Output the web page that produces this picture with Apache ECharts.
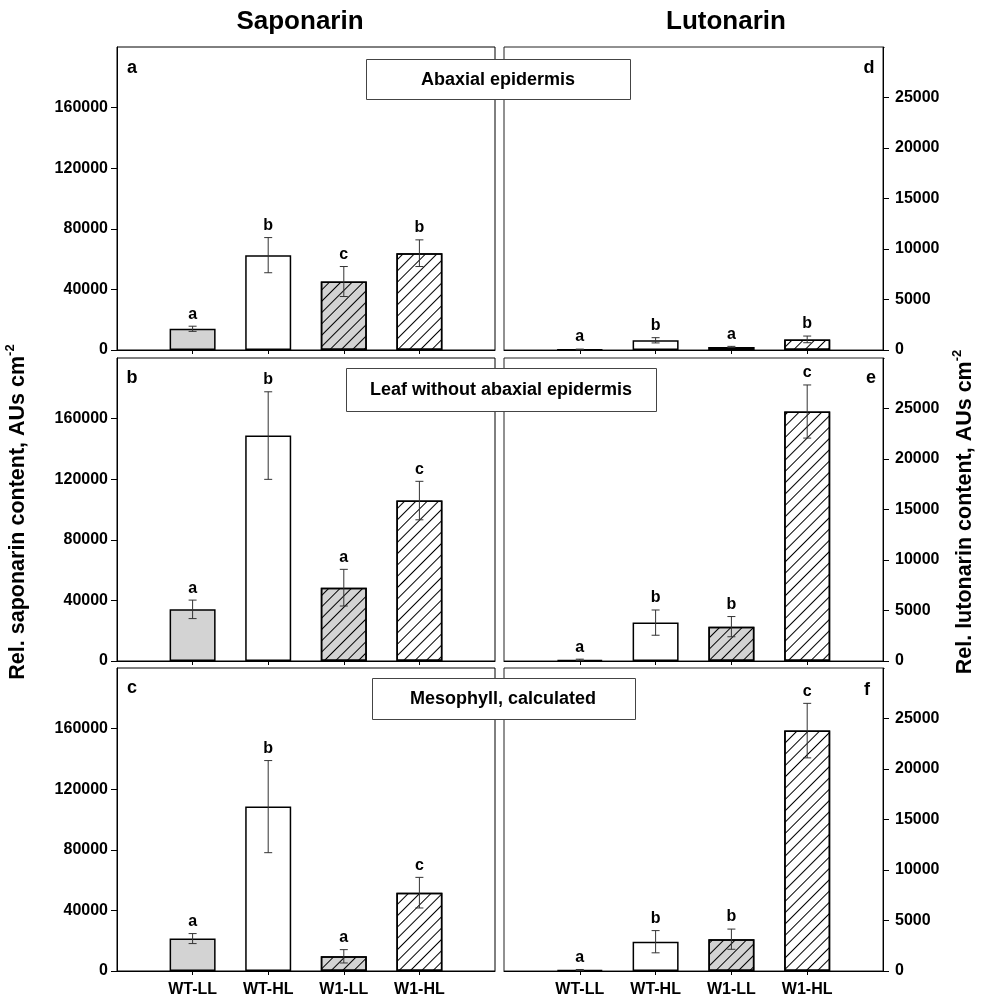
<!DOCTYPE html>
<html><head><meta charset="utf-8">
<script src="https://cdn.jsdelivr.net/npm/echarts@6/dist/echarts.min.js"></script>
<style>html,body{margin:0;padding:0;background:#fff}#c{width:983px;height:1003px}</style>
</head><body><div id="c"></div>
<script>
const categories = ['WT-LL', 'WT-HL', 'W1-LL', 'W1-HL'];
// Saponarin (left column)
const sapAbaxial = [14000, 62600, 45200, 63900];
const sapAbaxialErr = [1700, 11600, 9900, 8800];
const sapAbaxialSig = ['a', 'b', 'c', 'b'];
const sapLeaf = [34100, 148800, 48400, 105900];
const sapLeafErr = [6100, 28900, 12100, 12700];
const sapLeafSig = ['a', 'b', 'a', 'c'];
const sapMeso = [21400, 108500, 9700, 51700];
const sapMesoErr = [3300, 30400, 4400, 10100];
const sapMesoSig = ['a', 'b', 'a', 'c'];
// Lutonarin (right column)
const lutAbaxial = [60, 960, 300, 1050];
const lutAbaxialErr = [30, 260, 60, 330];
const lutAbaxialSig = ['a', 'b', 'a', 'b'];
const lutLeaf = [120, 3800, 3400, 24700];
const lutLeafErr = [60, 1250, 1000, 2630];
const lutLeafSig = ['a', 'b', 'b', 'c'];
const lutMeso = [100, 2900, 3150, 23800];
const lutMesoErr = [50, 1100, 1000, 2700];
const lutMesoSig = ['a', 'b', 'b', 'c'];
// tick labels
const sapTicks = [0, 40000, 80000, 120000, 160000];
const lutTicks = [0, 5000, 10000, 15000, 20000, 25000];
const panelLetters = ['a', 'b', 'c', 'd', 'e', 'f'];
const tissueLabels = ['Abaxial epidermis', 'Leaf without abaxial epidermis', 'Mesophyll, calculated'];
const columnTitles = ['Saponarin', 'Lutonarin'];

const FONT = "'Liberation Sans', Arial, Helvetica, sans-serif";
const hatch = { symbol: 'rect', symbolSize: 1, dashArrayX: [1, 0], dashArrayY: [1, 7], rotation: -Math.PI / 4, color: '#000' };
const barStyles = [
  { color: '#d3d3d3', borderColor: '#000', borderWidth: 1.5 },
  { color: '#ffffff', borderColor: '#000', borderWidth: 1.5 },
  { color: '#d3d3d3', borderColor: '#000', borderWidth: 1.5, decal: hatch },
  { color: '#ffffff', borderColor: '#000', borderWidth: 1.5, decal: hatch }
];

const panels = [
  { col: 0, row: 0, vals: sapAbaxial, errs: sapAbaxialErr, sig: sapAbaxialSig },
  { col: 0, row: 1, vals: sapLeaf, errs: sapLeafErr, sig: sapLeafSig },
  { col: 0, row: 2, vals: sapMeso, errs: sapMesoErr, sig: sapMesoSig },
  { col: 1, row: 0, vals: lutAbaxial, errs: lutAbaxialErr, sig: lutAbaxialSig },
  { col: 1, row: 1, vals: lutLeaf, errs: lutLeafErr, sig: lutLeafSig },
  { col: 1, row: 2, vals: lutMeso, errs: lutMesoErr, sig: lutMesoSig }
];
const colLeft = [117, 504], colWidth = [378, 379];
const rowTop = [47, 358, 668], H = 303;

const grid = [], xAxis = [], yAxis = [], series = [];
panels.forEach((p, i) => {
  grid.push({ left: colLeft[p.col], width: colWidth[p.col], top: rowTop[p.row], height: H,
    show: true, borderColor: p.col ? '#222' : '#000', borderWidth: 1, backgroundColor: 'transparent', containLabel: false });
  xAxis.push({ gridIndex: i, type: 'value', min: 0, max: 5, splitLine: { show: false },
    axisLine: { show: true, onZero: false, lineStyle: { color: '#000', width: 1 } },
    axisTick: { show: true, length: 4, customValues: [1, 2, 3, 4], lineStyle: { color: '#000' } },
    axisLabel: { show: p.row === 2, customValues: [1, 2, 3, 4], formatter: v => categories[v - 1] || '',
      margin: 11, fontSize: 16, fontWeight: 'bold', color: '#000', fontFamily: FONT } });
  const ticks = p.col ? lutTicks : sapTicks;
  const yCfg = { gridIndex: i, type: 'value', min: 0, max: p.col ? 30000 : 200000,
    position: p.col ? 'right' : 'left', splitLine: { show: false },
    axisLine: { show: true, onZero: false, lineStyle: { color: '#000', width: 1 } },
    axisTick: { show: true, length: 6, lineStyle: { color: '#000' } },
    axisLabel: { customValues: ticks, formatter: v => String(v), fontSize: 16, fontWeight: 'bold', color: '#000', fontFamily: FONT,
      margin: p.col ? 12 : 9 } };
  if (p.col) { yCfg.interval = 5000; } else { yCfg.axisTick.customValues = ticks; }
  yAxis.push(yCfg);
  series.push({ type: 'bar', xAxisIndex: i, yAxisIndex: i, barWidth: 46, silent: true, animation: false,
    data: p.vals.map((v, k) => ({ value: [k + 1, v], itemStyle: barStyles[k] })) });
  series.push({ type: 'custom', xAxisIndex: i, yAxisIndex: i, silent: true, animation: false, z: 5,
    data: p.vals.map((v, k) => [k + 1, v, p.errs[k]]),
    renderItem: (params, api) => {
      const x = api.value(0), v = api.value(1), e = api.value(2);
      const t = api.coord([x, v + e]), b = api.coord([x, Math.max(v - e, 0)]);
      const st = { stroke: '#333', lineWidth: 1 };
      return { type: 'group', children: [
        { type: 'line', shape: { x1: t[0], y1: t[1], x2: b[0], y2: b[1] }, style: st },
        { type: 'line', shape: { x1: t[0] - 4, y1: t[1], x2: t[0] + 4, y2: t[1] }, style: st },
        { type: 'line', shape: { x1: b[0] - 4, y1: b[1], x2: b[0] + 4, y2: b[1] }, style: st },
        { type: 'text', x: t[0], y: t[1] - 4, style: { text: p.sig[params.dataIndex], textAlign: 'center',
          textVerticalAlign: 'bottom', font: 'bold 16px ' + FONT, fill: '#000' } }
      ] };
    } });
});

const graphic = [];
// column titles
graphic.push({ type: 'text', x: 300, y: 22, style: { text: columnTitles[0], font: 'bold 26px ' + FONT, fill: '#000', textAlign: 'center', textVerticalAlign: 'middle' } });
graphic.push({ type: 'text', x: 726, y: 22, style: { text: columnTitles[1], font: 'bold 26px ' + FONT, fill: '#000', textAlign: 'center', textVerticalAlign: 'middle' } });
// y titles
const yTitleRich = { n: { fontSize: 21.5, fontWeight: 'bold', fontFamily: FONT, fill: '#000', lineHeight: 28 },
  s: { fontSize: 13, fontWeight: 'bold', fontFamily: FONT, fill: '#000', verticalAlign: 'top', lineHeight: 28 } };
graphic.push({ type: 'text', x: 18, y: 512, rotation: Math.PI / 2, style: { text: '{n|Rel. saponarin content, AUs cm}{s|-2}', rich: yTitleRich, textAlign: 'center', textVerticalAlign: 'middle' } });
graphic.push({ type: 'text', x: 965, y: 512, rotation: Math.PI / 2, style: { text: '{n|Rel. lutonarin content, AUs cm}{s|-2}', rich: yTitleRich, textAlign: 'center', textVerticalAlign: 'middle' } });
// mask the axis-end tick stub at the top of the right-hand axes (reference shows no tick there)
rowTop.forEach(t => {
  graphic.push({ type: 'rect', z: 100, shape: { x: 884.5, y: t - 3, width: 8, height: 6 }, style: { fill: '#fff' } });
});
// tissue boxes
const boxes = [
  { x: 366, y: 59, w: 264, h: 40, cx: 498 },
  { x: 346, y: 368, w: 310, h: 43, cx: 501 },
  { x: 372, y: 678, w: 263, h: 41, cx: 503 }
];
boxes.forEach((b, i) => {
  graphic.push({ type: 'rect', z: 100, shape: { x: b.x + 0.5, y: b.y + 0.5, width: b.w, height: b.h }, style: { fill: '#fff', stroke: '#444', lineWidth: 1 } });
  graphic.push({ type: 'text', z: 101, x: b.cx, y: b.y + b.h / 2 + 1, style: { text: tissueLabels[i], font: 'bold 18px ' + FONT, fill: '#000', textAlign: 'center', textVerticalAlign: 'middle' } });
});
// panel letters
const letterPos = [[132, 68], [132, 378], [132, 688], [869, 68], [871, 378], [867, 690]];
letterPos.forEach((pos, i) => {
  graphic.push({ type: 'text', z: 100, x: pos[0], y: pos[1], style: { text: panelLetters[i], font: 'bold 18px ' + FONT, fill: '#000', textAlign: 'center', textVerticalAlign: 'middle' } });
});

const chart = echarts.init(document.getElementById('c'), null, { renderer: 'canvas' });
chart.setOption({ backgroundColor: '#fff', animation: false, grid, xAxis, yAxis, series, graphic });
</script></body></html>
